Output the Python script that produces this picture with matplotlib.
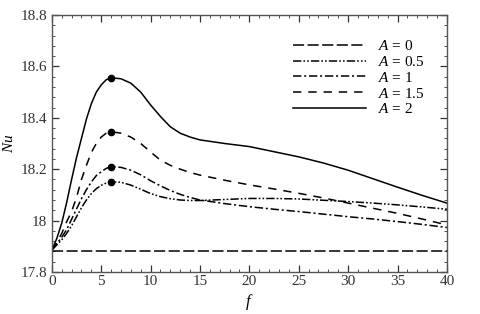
import matplotlib
matplotlib.use("Agg")
import matplotlib.pyplot as plt
from matplotlib.ticker import MultipleLocator, FormatStrFormatter

plt.rcParams['font.family'] = ['Liberation Serif', 'DejaVu Serif']
plt.rcParams['mathtext.fontset'] = 'custom'
plt.rcParams['mathtext.rm'] = 'Liberation Serif'
plt.rcParams['mathtext.it'] = 'Liberation Serif:italic'
plt.rcParams['lines.scale_dashes'] = False

# values
f = [0, 0.5, 1, 1.5, 2, 2.5, 3, 3.5, 4, 4.5, 5, 5.5, 6, 7, 8, 9, 10, 11, 12, 13, 14, 15,
     17.5, 20, 22.5, 25, 27.5, 30, 32.5, 35, 37.5, 40]

nu_a0 = [17.883] * len(f)
nu_a05 = [17.885, 17.905, 17.925, 17.95, 17.98, 18.015, 18.05, 18.08, 18.105, 18.124, 18.137,
          18.146, 18.151, 18.149, 18.138, 18.122, 18.105, 18.093, 18.085, 18.08, 18.078, 18.078,
          18.082, 18.086, 18.086, 18.084, 18.079, 18.074, 18.068, 18.061, 18.053, 18.044]
nu_a1 = [17.885, 17.91, 17.935, 17.965, 18.005, 18.045, 18.085, 18.12, 18.15, 18.175, 18.19,
         18.203, 18.21, 18.207, 18.196, 18.178, 18.155, 18.135, 18.117, 18.102, 18.09, 18.08,
         18.066, 18.054, 18.044, 18.035, 18.025, 18.015, 18.006, 17.996, 17.985, 17.973]
nu_a15 = [17.885, 17.915, 17.95, 17.995, 18.035, 18.09, 18.16, 18.215, 18.265, 18.30, 18.325,
          18.34, 18.346, 18.34, 18.325, 18.30, 18.267, 18.235, 18.215, 18.2, 18.187, 18.177,
          18.157, 18.139, 18.123, 18.106, 18.088, 18.068, 18.048, 18.028, 18.006, 17.983]
nu_a2 = [17.885, 17.93, 17.99, 18.07, 18.16, 18.245, 18.32, 18.395, 18.455, 18.50, 18.528,
         18.548, 18.556, 18.552, 18.535, 18.50, 18.45, 18.405, 18.365, 18.34, 18.325, 18.314,
         18.30, 18.288, 18.268, 18.248, 18.224, 18.196, 18.163, 18.13, 18.098, 18.068]

peak_f = [6, 6, 6, 6]
peak_nu = [18.151, 18.21, 18.346, 18.556]

fig = plt.figure(figsize=(4.8, 3.14), dpi=100)
ax = fig.add_axes([0.108, 0.134, 0.823, 0.818])

lw = 1.1
ax.plot(f, nu_a0, color='black', lw=lw, linestyle=(0, (8, 2.5)), label=r'$A$ = 0')
ax.plot(f, nu_a05, color='black', lw=lw, linestyle=(0, (6, 1.5, 1.2, 1.5, 1.2, 1.5)), label=r'$A$ = 0.5')
ax.plot(f, nu_a1, color='black', lw=lw, linestyle=(0, (6, 2, 1.5, 2)), label=r'$A$ = 1')
ax.plot(f, nu_a15, color='black', lw=lw, linestyle=(0, (6, 5)), label=r'$A$ = 1.5')
ax.plot(f, nu_a2, color='black', lw=lw, linestyle='-', label=r'$A$ = 2')
ax.plot(peak_f, peak_nu, 'ko', markersize=4.5)

ax.set_xlim(0, 40)
ax.set_ylim(17.8, 18.8)
ax.xaxis.set_major_locator(MultipleLocator(5))
ax.xaxis.set_minor_locator(MultipleLocator(1))
ax.yaxis.set_major_locator(MultipleLocator(0.2))
ax.yaxis.set_minor_locator(MultipleLocator(0.04))
ax.yaxis.set_major_formatter(FormatStrFormatter('%g'))
ax.tick_params(which='both', direction='in', top=True, right=True, labelsize=11, colors='#333333')
ax.tick_params(axis='x', pad=2.5)
ax.tick_params(which='major', length=5, width=0.9)
ax.tick_params(which='minor', length=2.5, width=0.6)
for s in ax.spines.values():
    s.set_color('#555555')
    s.set_linewidth(1.0)

ax.set_xlabel(r'$f$', fontsize=12)
ax.xaxis.set_label_coords(0.5, -0.08)
ax.set_ylabel(r'$\overline{Nu}$', fontsize=11)
ax.yaxis.set_label_coords(-0.085, 0.5)

ax.legend(loc='upper left', bbox_to_anchor=(0.575, 0.96), frameon=False, fontsize=11,
          handlelength=4.8, handletextpad=0.8, labelspacing=0.12)

fig.savefig('out.png', dpi=100)
